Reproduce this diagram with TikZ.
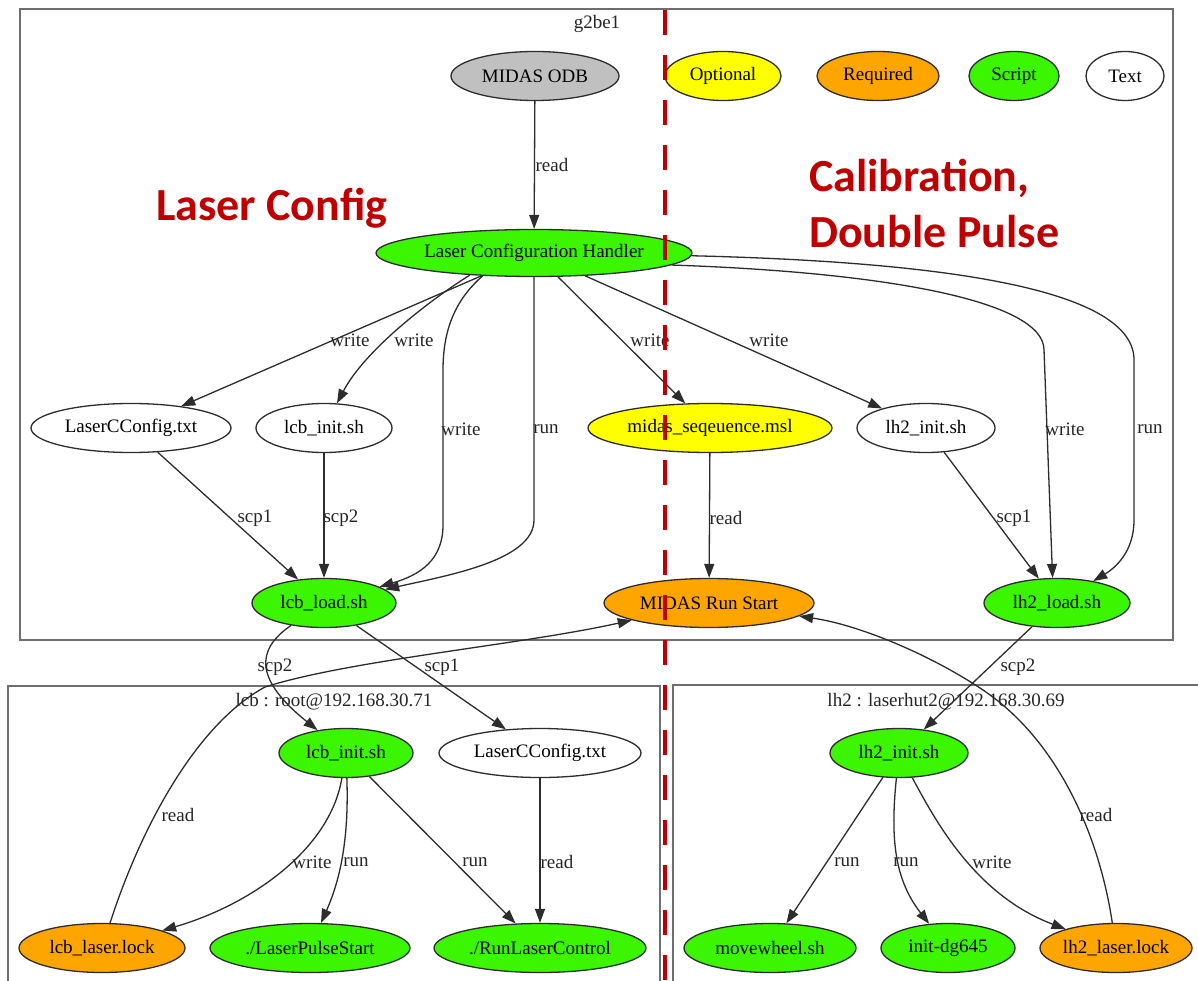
\documentclass[tikz,border=0pt]{standalone}
\usepackage{fontspec}
\newfontfamily\gvfont{Liberation Serif}
\newfontfamily\calibfont{Carlito}
\usetikzlibrary{shapes.geometric,arrows.meta}
\definecolor{gvgreen}{RGB}{60,245,0}
\definecolor{gvorange}{RGB}{255,165,0}
\definecolor{gvyellow}{RGB}{255,255,0}
\definecolor{gvgrey}{RGB}{192,192,192}
\definecolor{titlered}{RGB}{192,0,0}
\definecolor{edgecol}{RGB}{45,45,45}
\definecolor{boxcol}{RGB}{110,110,110}
\newcommand\cz[1]{\makebox[0pt]{#1}}
\begin{document}
\begin{tikzpicture}[x=1pt,y=-1pt,
  gvtext/.style={font=\gvfont\fontsize{19}{22}\selectfont},
  nd/.style={gvtext, ellipse, draw=edgecol, line width=1.3pt, minimum height=49pt, inner sep=0pt, text=black},
  gnode/.style={nd, fill=gvgreen},
  onode/.style={nd, fill=gvorange},
  ynode/.style={nd, fill=gvyellow},
  tnode/.style={nd, fill=white},
  grnode/.style={nd, fill=gvgrey},
  conn/.style={draw=edgecol, line width=1.3pt, -{Triangle[length=14pt,width=10pt]}},
  lbl/.style={gvtext, inner sep=0pt, text=black!85},
  boxc/.style={draw=boxcol, line width=1.6pt},
  bigred/.style={font=\calibfont\bfseries\fontsize{46}{50}\selectfont, text=titlered, anchor=base west, inner sep=0pt}
]
\clip (0,0) rectangle (1198,981);
\fill[white] (0,0) rectangle (1198,981);

% clusters
\draw[boxc] (20,9) rectangle (1173,640);
\draw[boxc] (8,686) rectangle (660,1000);
\draw[boxc] (673,685) rectangle (1215,1000);
\node[lbl] (cg) at (597,24) {g2be1};
\node[lbl] (clcb) at (334,702) {lcb : root@192.168.30.71};
\node[lbl] (clh2) at (946,702) {lh2 : laserhut2@192.168.30.69};

% titles
\node[bigred] (t1) at (156,221) {Laser Config};
\node[bigred] (t2) at (809,192) {Calibration,};
\node[bigred] (t3) at (809,248) {Double Pulse};

% nodes
\node[grnode, minimum width=168pt] (odb) at (535,76) {\cz{MIDAS ODB}};
\node[ynode, minimum width=116pt] (lopt) at (723,76) {\cz{Optional}};
\node[onode, minimum width=122pt] (lreq) at (878,76) {\cz{Required}};
\node[gnode, minimum width=90pt] (lscr) at (1014,76) {\cz{Script}};
\node[tnode, minimum width=78pt] (ltxt) at (1125,76) {\cz{Text}};
\node[gnode, minimum width=316pt, minimum height=47pt] (lch) at (534,253) {\cz{Laser Configuration Handler}};
\node[tnode, minimum width=200pt] (lcc) at (131,428) {\cz{LaserCConfig.txt}};
\node[tnode, minimum width=136pt] (lcbi) at (324,428) {\cz{lcb\_init.sh}};
\node[ynode, minimum width=244pt] (mseq) at (710,428) {\cz{midas\_seqeuence.msl}};
\node[tnode, minimum width=138pt] (lh2i) at (926,428) {\cz{lh2\_init.sh}};
\node[gnode, minimum width=144pt] (lcbl) at (324,603) {\cz{lcb\_load.sh}};
\node[onode, minimum width=210pt] (mrs) at (709,603) {\cz{MIDAS Run Start}};
\node[gnode, minimum width=146pt] (lh2l) at (1057,603) {\cz{lh2\_load.sh}};
\node[gnode, minimum width=134pt] (lcbi2) at (346,753) {\cz{lcb\_init.sh}};
\node[tnode, minimum width=202pt] (lcc2) at (540,753) {\cz{LaserCConfig.txt}};
\node[onode, minimum width=166pt] (lcbk) at (102,948) {\cz{lcb\_laser.lock}};
\node[gnode, minimum width=200pt] (lps) at (310,948) {\cz{./LaserPulseStart}};
\node[gnode, minimum width=212pt] (rlc) at (540,948) {\cz{./RunLaserControl}};
\node[gnode, minimum width=138pt] (lh2i2) at (899,753) {\cz{lh2\_init.sh}};
\node[gnode, minimum width=172pt] (mw) at (770,948) {\cz{movewheel.sh}};
\node[gnode, minimum width=134pt] (dg) at (948,948) {\cz{init-dg645}};
\node[onode, minimum width=152pt] (lh2k) at (1116,948) {\cz{lh2\_laser.lock}};

% edges
\draw[conn] (odb) -- (lch);
\draw[conn] (lch) -- (lcc);
\draw[conn] (lch.199) .. controls (430,300) and (365,350) .. (lcbi);
\draw[conn] (lch.204) .. controls (455,300) and (443,330) .. (443,370) -- (443,525) .. controls (443,560) and (420,575) .. (lcbl);
\draw[conn] (lch.south) -- (534,520) .. controls (534,560) and (450,575) .. (lcbl);
\draw[conn] (lch) -- (mseq);
\draw[conn] (lch) -- (lh2i);
\draw[conn] (lch.-5) .. controls (880,272) and (1044,300) .. (1044,350) -- (lh2l.100);
\draw[conn] (lch.-1) .. controls (950,262) and (1134,290) .. (1134,360) -- (1134,520) .. controls (1134,552) and (1115,568) .. (lh2l);
\draw[conn] (lcc) -- (lcbl);
\draw[conn] (lcbi) -- (lcbl);
\draw[conn] (mseq) -- (mrs);
\draw[conn] (lh2i) -- (lh2l);
\draw[conn] (lcbl) .. controls (255,650) and (255,680) .. (lcbi2);
\draw[conn] (lcbl) -- (lcc2);
\draw[conn] (lcbk) .. controls (140,830) and (195,725) .. (265,687) .. controls (350,660) and (520,645) .. (mrs);
\draw[conn] (lh2l) -- (lh2i2);
\draw[conn] (lh2k) .. controls (1100,840) and (1060,740) .. (980,688) .. controls (930,655) and (860,625) .. (mrs);
\draw[conn] (lcbi2) .. controls (330,850) and (250,905) .. (lcbk);
\draw[conn] (lcbi2) .. controls (349,840) and (340,880) .. (lps);
\draw[conn] (lcbi2) -- (rlc);
\draw[conn] (lcc2) -- (rlc);
\draw[conn] (lh2i2) -- (mw);
\draw[conn] (lh2i2) .. controls (890,840) and (895,880) .. (dg);
\draw[conn] (lh2i2) .. controls (935,820) and (975,895) .. (lh2k);

% edge labels
\node[lbl] (l1) at (552,165) {read};
\node[lbl] (l2) at (350,340) {write};
\node[lbl] (l3) at (414,340) {write};
\node[lbl] (l4) at (461,429) {write};
\node[lbl] (l5) at (546,429) {run};
\node[lbl] (l6) at (650,340) {write};
\node[lbl] (l7) at (769,340) {write};
\node[lbl] (l8) at (1065,429) {write};
\node[lbl] (l9) at (1150,429) {run};
\node[lbl] (l10) at (255,518) {scp1};
\node[lbl] (l11) at (341,518) {scp2};
\node[lbl] (l12) at (726,518) {read};
\node[lbl] (l13) at (1014,518) {scp1};
\node[lbl] (l14) at (275,667) {scp2};
\node[lbl] (l15) at (442,667) {scp1};
\node[lbl] (l16) at (178,815) {read};
\node[lbl] (l17) at (1018,667) {scp2};
\node[lbl] (l18) at (1096,815) {read};
\node[lbl] (l19) at (312,862) {write};
\node[lbl] (l20) at (356,862) {run};
\node[lbl] (l21) at (475,862) {run};
\node[lbl] (l22) at (557,862) {read};
\node[lbl] (l23) at (847,862) {run};
\node[lbl] (l24) at (906,862) {run};
\node[lbl] (l25) at (992,862) {write};

% red divider
\draw[titlered, line width=4.5pt, dash pattern=on 25pt off 20pt] (665,10) -- (665,1000);
\end{tikzpicture}
\end{document}
